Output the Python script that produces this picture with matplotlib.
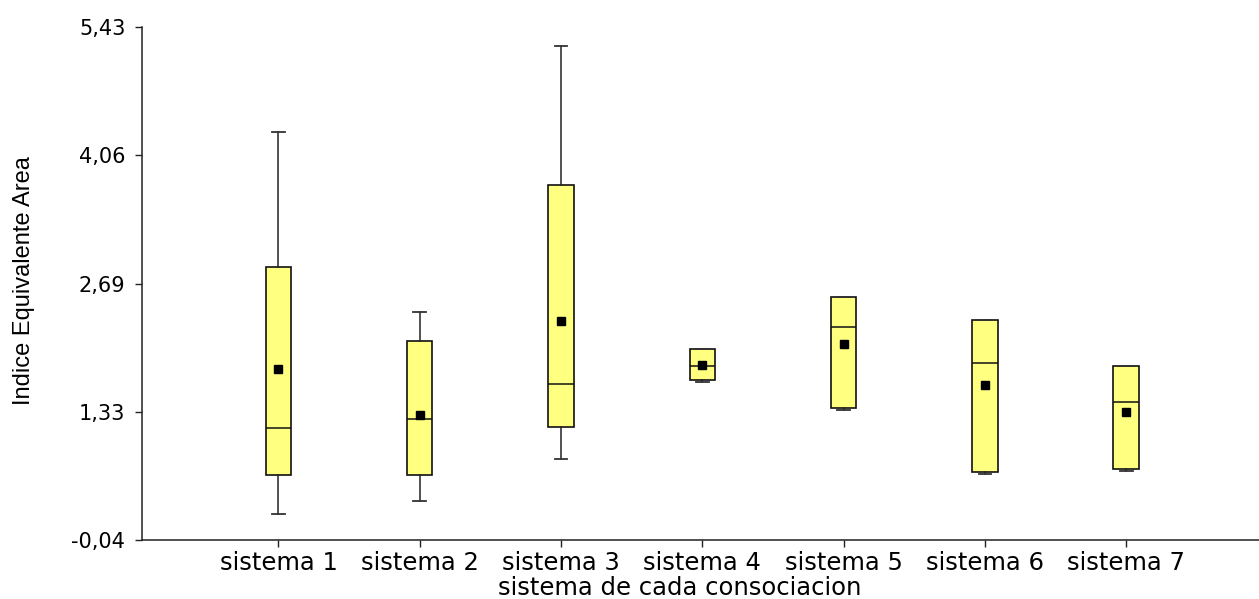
import matplotlib
matplotlib.use('Agg')
import matplotlib.pyplot as plt

# values
SISTEMAS = ['sistema 1', 'sistema 2', 'sistema 3', 'sistema 4',
            'sistema 5', 'sistema 6', 'sistema 7']
WHISK_LO = [0.24, 0.38, 0.82, 1.64, 1.35, 0.66, 0.70]
Q1 = [0.65, 0.65, 1.17, 1.67, 1.37, 0.68, 0.72]
MEDIAN = [1.15, 1.25, 1.62, 1.82, 2.23, 1.85, 1.43]
Q3 = [2.87, 2.08, 3.75, 2.00, 2.55, 2.31, 1.82]
WHISK_HI = [4.31, 2.39, 5.23, 2.00, 2.55, 2.31, 1.82]
MEAN = [1.78, 1.29, 2.30, 1.83, 2.05, 1.61, 1.32]
YTICKS = [-0.04, 1.33, 2.69, 4.06, 5.43]


def main():
    fig = plt.figure(figsize=(12.59, 5.99), dpi=100)
    ax = fig.add_axes([0.1128, 0.0985, 0.8872, 0.8564])

    stats = []
    for i, lab in enumerate(SISTEMAS):
        stats.append({'label': lab, 'whislo': WHISK_LO[i], 'q1': Q1[i],
                      'med': MEDIAN[i], 'q3': Q3[i], 'whishi': WHISK_HI[i],
                      'mean': MEAN[i], 'fliers': []})

    ax.bxp(stats, positions=range(1, len(SISTEMAS) + 1), widths=0.18,
           patch_artist=True, showmeans=True, showfliers=False,
           boxprops=dict(facecolor='#ffff80', edgecolor='#111', linewidth=1.2),
           medianprops=dict(color='#111', linewidth=1.1),
           whiskerprops=dict(color='#222', linewidth=1.1),
           capprops=dict(color='#333', linewidth=1.3),
           meanprops=dict(marker='s', markerfacecolor='black',
                          markeredgecolor='black', markersize=5.5))

    ax.set_xlim(0.034, 7.94)
    ax.set_ylim(YTICKS[0], YTICKS[-1])
    ax.set_yticks(YTICKS)
    ax.set_yticklabels([f'{v:.2f}'.replace('.', ',') for v in YTICKS],
                       fontsize=15, family='DejaVu Sans')
    ax.set_xticks(range(1, len(SISTEMAS) + 1))
    ax.set_xticklabels(SISTEMAS, fontsize=17.5, family='DejaVu Sans')
    ax.tick_params(axis='both', direction='out', length=5, width=1,
                   color='#222')
    ax.tick_params(axis='y', pad=7)
    ax.tick_params(axis='x', pad=3)
    for s in ('top', 'right'):
        ax.spines[s].set_visible(False)
    for s in ('left', 'bottom'):
        ax.spines[s].set_color('#222')
        ax.spines[s].set_linewidth(1.1)

    ax.set_ylabel('Indice Equivalente Area', fontsize=17,
                  family='Liberation Sans')
    ax.yaxis.set_label_coords(-0.096, 0.505)
    ax.set_xlabel('sistema de cada consociacion', fontsize=17.5,
                  family='DejaVu Sans')
    ax.xaxis.set_label_coords(0.4817, -0.071)

    fig.savefig('out.png', dpi=100)


if __name__ == '__main__':
    main()
